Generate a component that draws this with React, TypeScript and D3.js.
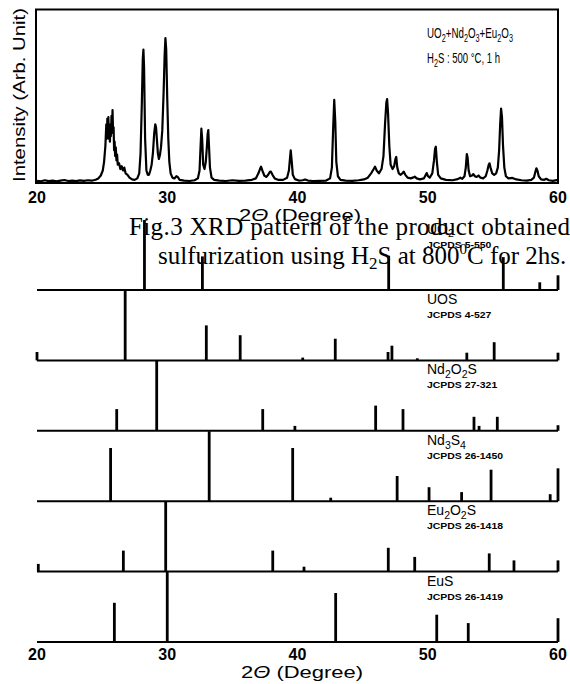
import React, { useEffect, useRef } from 'react';
import * as d3 from 'd3';

const W = 570;
const H = 684;

// measured XRD pattern of UO2+Nd2O3+Eu2O3 after H2S at 500 C, [2theta, intensity % of max]
const measuredPattern: [number, number][] = [
  [20.0, 0.8], [20.3, 0.5], [20.6, 1.2], [20.9, 0.6], [21.2, 0.9], [21.5, 0.4], [21.8, 1.0], [22.1, 1.4],
  [22.4, 0.7], [22.7, 1.0], [23.0, 0.6], [23.3, 1.1], [23.6, 0.8], [23.9, 1.2], [24.2, 0.9], [24.5, 1.6],
  [24.7, 2.5], [24.9, 4.5], [25.05, 8], [25.15, 14], [25.25, 25], [25.32, 40], [25.36, 30], [25.4, 44],
  [25.44, 33], [25.48, 45], [25.52, 30], [25.56, 38], [25.6, 28], [25.64, 40], [25.68, 32], [25.72, 46],
  [25.76, 36], [25.8, 50], [25.84, 34], [25.88, 38], [25.92, 22], [25.96, 28], [26.0, 18], [26.05, 24],
  [26.1, 15], [26.15, 19], [26.2, 12], [26.3, 13], [26.4, 9], [26.5, 11], [26.6, 8], [26.7, 10],
  [26.8, 6], [26.95, 5], [27.1, 3], [27.3, 1.8], [27.5, 1.5], [27.7, 2.5], [27.85, 6], [27.95, 20],
  [28.05, 55], [28.12, 85], [28.17, 92], [28.22, 80], [28.3, 30], [28.4, 8], [28.5, 5], [28.6, 5],
  [28.7, 8], [28.8, 12], [28.9, 20], [29.0, 34], [29.08, 40], [29.14, 38], [29.2, 30], [29.28, 20],
  [29.36, 16], [29.44, 19], [29.52, 24], [29.62, 36], [29.72, 62], [29.8, 88], [29.86, 100], [29.92, 92],
  [30.0, 58], [30.08, 30], [30.16, 14], [30.26, 6], [30.4, 3], [30.55, 2.5], [30.7, 4], [30.8, 3.5],
  [30.95, 1.5], [31.3, 1], [31.7, 0.7], [32.1, 1.2], [32.35, 2.5], [32.48, 8], [32.56, 25], [32.62, 37],
  [32.68, 30], [32.76, 12], [32.86, 9], [32.96, 14], [33.04, 24], [33.1, 33], [33.15, 36], [33.2, 26],
  [33.28, 10], [33.4, 3], [33.6, 1.5], [34.0, 1], [34.5, 0.7], [35.0, 1.2], [35.5, 0.8], [36.0, 1],
  [36.5, 1.5], [36.8, 2.5], [37.0, 6], [37.12, 9], [37.2, 10.6], [37.3, 8], [37.45, 4.5], [37.6, 3.5],
  [37.75, 5], [37.88, 7], [37.96, 7.2], [38.08, 5], [38.25, 2.5], [38.5, 1.5], [38.9, 1.5], [39.2, 3],
  [39.34, 8], [39.42, 16], [39.48, 22], [39.55, 15], [39.64, 5], [39.8, 2], [40.1, 1], [40.4, 1.2],
  [40.58, 1.8], [40.8, 1], [41.2, 0.7], [41.7, 0.8], [42.2, 1], [42.5, 2.5], [42.64, 10], [42.74, 38],
  [42.82, 57], [42.9, 42], [42.98, 14], [43.1, 4], [43.3, 1.5], [43.7, 1], [44.2, 0.8], [44.7, 1.2],
  [45.1, 1.8], [45.4, 3], [45.65, 6], [45.85, 9], [45.95, 10.6], [46.08, 8], [46.25, 6], [46.45, 9],
  [46.6, 18], [46.72, 40], [46.82, 55], [46.88, 57.6], [46.95, 48], [47.05, 25], [47.15, 12], [47.3, 9],
  [47.42, 11], [47.52, 16], [47.58, 17.4], [47.66, 10], [47.78, 6], [47.9, 5], [48.05, 6], [48.15, 7.2],
  [48.28, 5], [48.45, 3], [48.7, 2.5], [48.9, 3.2], [49.0, 3.7], [49.15, 2.5], [49.4, 1.8], [49.7, 2.5],
  [49.85, 5], [49.92, 6.2], [50.02, 4], [50.15, 3], [50.35, 6], [50.48, 15], [50.56, 23], [50.62, 24.5],
  [50.7, 14], [50.8, 5], [51.0, 2.5], [51.4, 1.5], [51.9, 1.2], [52.3, 2], [52.5, 3], [52.65, 2.2],
  [52.82, 4], [52.92, 10], [53.0, 19.4], [53.06, 17], [53.14, 8], [53.25, 4], [53.4, 4.5], [53.5, 5.5],
  [53.62, 4], [53.75, 3.5], [53.9, 4.5], [54.05, 3], [54.25, 2.5], [54.45, 4], [54.58, 8], [54.68, 12],
  [54.74, 13], [54.82, 10], [54.95, 6], [55.1, 5], [55.25, 6], [55.38, 10], [55.48, 22], [55.56, 40],
  [55.63, 51], [55.7, 45], [55.78, 25], [55.88, 10], [56.0, 4], [56.2, 2.5], [56.5, 2.8], [56.8, 1.8],
  [57.2, 1.2], [57.6, 1], [57.95, 1.5], [58.15, 3], [58.26, 7], [58.34, 9.5], [58.42, 8], [58.52, 4],
  [58.7, 1.8], [58.95, 1.5], [59.1, 2.2], [59.3, 1.2], [59.6, 0.8], [60.0, 1.5],
];

// reference stick patterns [2theta, relative intensity]
const uo2Peaks = [[28.25, 100], [32.7, 48], [47.0, 49], [55.8, 47], [58.6, 11], [60, 21]];
const uosPeaks = [[20, 12], [26.77, 100], [33.0, 50], [35.6, 36], [40.4, 4], [42.9, 31], [46.95, 12], [47.25, 21], [49.2, 3], [53.0, 11], [55.1, 26], [60, 11]];
const nd2o2sPeaks = [[26.12, 31], [29.19, 100], [37.33, 31], [39.8, 7], [46.0, 36], [48.1, 31], [53.55, 20], [53.94, 7], [55.34, 20], [60, 8]];
const nd3s4Peaks = [[25.65, 76], [33.22, 100], [39.63, 76], [42.55, 5], [47.65, 36], [50.1, 20], [52.6, 13], [54.86, 45], [59.4, 10], [60, 47]];
const eu2o2sPeaks = [[20.1, 11], [26.63, 30], [29.88, 100], [38.1, 30], [40.5, 7], [46.97, 34], [49.0, 21], [54.72, 26], [56.62, 16], [60, 16]];
const eusPeaks = [[25.94, 56], [30.0, 100], [42.93, 70], [50.69, 39], [53.11, 27], [60, 34]];

const phaseNames = ['UO2', 'UOS', 'Nd2O2S', 'Nd3S4', 'Eu2O2S', 'EuS'];
const jcpdsCards = ['JCPDS 5-550', 'JCPDS 4-527', 'JCPDS 27-321', 'JCPDS 26-1450', 'JCPDS 26-1418', 'JCPDS 26-1419'];
const phasePeaks = [uo2Peaks, uosPeaks, nd2o2sPeaks, nd3s4Peaks, eu2o2sPeaks, eusPeaks];

const xTicks = [20, 30, 40, 50, 60];

const SANS = "'Liberation Sans', Arial, Helvetica, sans-serif";
const SERIF = "'Liberation Serif', 'Times New Roman', serif";

// digits in a formula become subscripts
function chem(sel: any, str: string, fs: number) {
  const parts = str.match(/\d+|\D+/g) || [];
  let shifted = false;
  parts.forEach(p => {
    const t = sel.append('tspan').text(p);
    if (/\d/.test(p)) {
      t.attr('font-size', fs * 0.75).attr('dy', fs * 0.28);
      shifted = true;
    } else if (shifted) {
      t.attr('dy', -fs * 0.28);
      shifted = false;
    }
  });
}

function App() {
  const svgRef = useRef<SVGSVGElement>(null);

  useEffect(() => {
    const svg = d3.select(svgRef.current);
    svg.selectAll('*').remove();

    const x = d3.scaleLinear().domain([20, 60]).range([37, 558]);

    // ---- top panel: measured pattern ----
    const frame = { left: 36, right: 558, top: 9.5, bottom: 183 };
    const yTop = d3.scaleLinear().domain([0, 100]).range([182, 38]);

    const top = svg.append('g');
    top.append('path')
      .datum(measuredPattern)
      .attr('fill', 'none')
      .attr('stroke', '#000')
      .attr('stroke-width', 2.2)
      .attr('stroke-linejoin', 'round')
      .attr('d', d3.line<[number, number]>().x(d => x(d[0])).y(d => yTop(d[1])));

    top.append('rect')
      .attr('x', frame.left)
      .attr('y', frame.top)
      .attr('width', frame.right - frame.left)
      .attr('height', frame.bottom - frame.top)
      .attr('fill', 'none')
      .attr('stroke', '#000')
      .attr('stroke-width', 2);

    top.selectAll('.tick-top')
      .data(xTicks)
      .join('text')
      .attr('x', d => x(d))
      .attr('y', 203)
      .attr('text-anchor', 'middle')
      .attr('font-family', SANS)
      .attr('font-size', 16)
      .attr('font-weight', 'bold')
      .text(d => d);

    top.append('text')
      .attr('transform', 'translate(25,95) rotate(-90)')
      .attr('text-anchor', 'middle')
      .attr('font-family', SANS)
      .attr('font-size', 16)
      .attr('textLength', 174)
      .attr('lengthAdjust', 'spacingAndGlyphs')
      .text('Intensity (Arb. Unit)');

    const ann1 = top.append('text')
      .attr('x', 427).attr('y', 38)
      .attr('font-family', SANS).attr('font-size', 14.5)
      .attr('textLength', 86).attr('lengthAdjust', 'spacingAndGlyphs');
    chem(ann1, 'UO2+Nd2O3+Eu2O3', 14.5);

    const ann2 = top.append('text')
      .attr('x', 427).attr('y', 63)
      .attr('font-family', SANS).attr('font-size', 14.5)
      .attr('textLength', 73).attr('lengthAdjust', 'spacingAndGlyphs');
    ann2.append('tspan').text('H');
    ann2.append('tspan').attr('font-size', 11).attr('dy', 4).text('2');
    ann2.append('tspan').attr('dy', -4).text('S : 500 \u00b0C, 1 h');

    const xLabel = (sel: any, cx: number, y: number) => {
      const t = sel.append('text')
        .attr('x', cx).attr('y', y)
        .attr('text-anchor', 'middle')
        .attr('font-family', SANS).attr('font-size', 16)
        .attr('textLength', 122).attr('lengthAdjust', 'spacingAndGlyphs');
      t.append('tspan').text('2');
      t.append('tspan').attr('font-style', 'italic').text('\u0398');
      t.append('tspan').text(' (Degree)');
    };
    xLabel(top, 300, 221);

    // ---- reference stick patterns ----
    const base = d3.scalePoint<string>().domain(phaseNames).range([290, 642]);
    const h = d3.scaleLinear().domain([0, 100]).range([0, 70]);

    const panels = svg.selectAll('.panel')
      .data(phaseNames)
      .join('g')
      .attr('class', 'panel');

    panels.each(function (name, i) {
      const g = d3.select(this);
      const y0 = base(name)!;
      const yTopPanel = y0 - h(100);

      g.selectAll('line.peak')
        .data(phasePeaks[i])
        .join('line')
        .attr('class', 'peak')
        .attr('x1', d => x(d[0]))
        .attr('x2', d => x(d[0]))
        .attr('y1', y0)
        .attr('y2', d => y0 - h(d[1]))
        .attr('stroke', '#000')
        .attr('stroke-width', 2.8);

      g.append('line')
        .attr('x1', x(20)).attr('x2', x(60))
        .attr('y1', y0).attr('y2', y0)
        .attr('stroke', '#000')
        .attr('stroke-width', 2);

      const nameText = g.append('text')
        .attr('x', 427).attr('y', yTopPanel + 13.5)
        .attr('font-family', SANS).attr('font-size', 14);
      chem(nameText, name, 14);

      g.append('text')
        .attr('x', 427).attr('y', yTopPanel + 27.5)
        .attr('font-family', SANS).attr('font-size', 9.5)
        .attr('font-weight', 'bold')
        .attr('textLength', jcpdsCards[i].length * 5.85)
        .attr('lengthAdjust', 'spacingAndGlyphs')
        .text(jcpdsCards[i]);
    });

    svg.selectAll('.tick-bottom')
      .data(xTicks)
      .join('text')
      .attr('x', d => x(d))
      .attr('y', 660)
      .attr('text-anchor', 'middle')
      .attr('font-family', SANS)
      .attr('font-size', 16)
      .attr('font-weight', 'bold')
      .text(d => d);

    xLabel(svg, 302, 678);

    // ---- figure caption laid over the page ----
    svg.append('text')
      .attr('x', 129).attr('y', 235)
      .attr('font-family', SERIF).attr('font-size', 25)
      .attr('textLength', 441).attr('lengthAdjust', 'spacing')
      .text('Fig.3 XRD pattern of the product obtained');

    const cap2 = svg.append('text')
      .attr('x', 158).attr('y', 264)
      .attr('font-family', SERIF).attr('font-size', 25);
    cap2.append('tspan').text('sulfurization using H');
    cap2.append('tspan').attr('font-size', 17).attr('dy', 5).text('2');
    cap2.append('tspan').attr('dy', -5).text('S at 800');
    cap2.append('tspan').attr('font-size', 15).attr('dy', -10).text('0');
    cap2.append('tspan').attr('dy', 10).text('C for 2hs.');
  }, []);

  return (
    <svg
      ref={svgRef}
      width={W}
      height={H}
      style={{ position: 'absolute', left: 0, top: 0, background: '#fff' }}
    />
  );
}

export default App;
